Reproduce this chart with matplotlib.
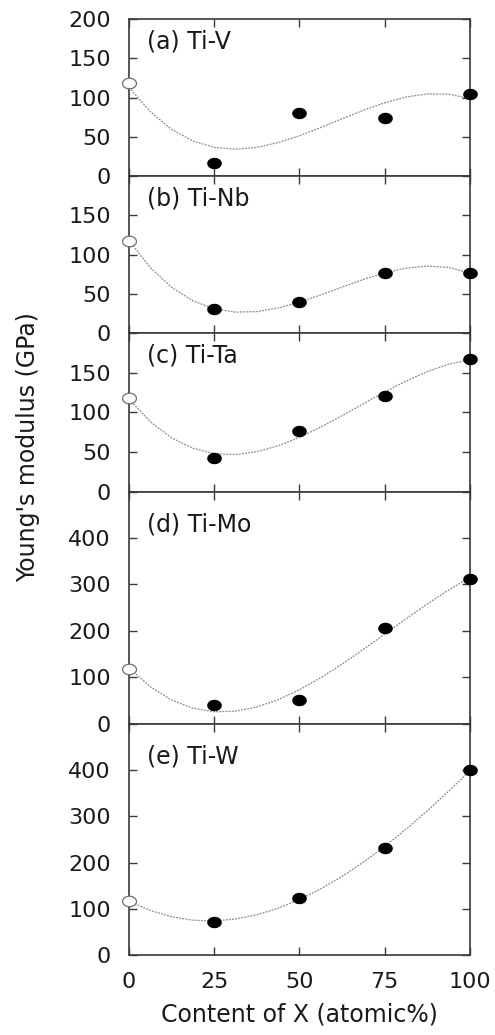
import numpy as np
import matplotlib
matplotlib.use("Agg")
import matplotlib.pyplot as plt
from matplotlib.path import Path

# composition of X (atomic%)
content = [0, 25, 50, 75, 100]
alloy_content = [25, 50, 75, 100]

# pure Ti (open circle) value in each panel
pure_ti = [118, 118, 118, 117, 117]

# Young's modulus of the alloys (GPa)
ti_v = [17, 81, 74, 104]
ti_nb = [31, 40, 77, 77]
ti_ta = [43, 76, 121, 168]
ti_mo = [40, 52, 207, 311]
ti_w = [71, 124, 232, 399]

# dotted fit curves, every 6.25 atomic%
curve_x = [0, 6.25, 12.5, 18.75, 25, 31.25, 37.5, 43.75, 50,
           56.25, 62.5, 68.75, 75, 81.25, 87.5, 93.75, 100]
fit_v = [113.1, 82.0, 59.5, 44.8, 36.7, 34.4, 36.7, 42.8, 51.5,
         62.0, 73.1, 84.0, 93.5, 100.8, 104.7, 104.4, 98.7]
fit_nb = [118.0, 83.7, 58.5, 41.4, 31.2, 27.0, 27.7, 32.3, 39.7,
          48.9, 58.9, 68.6, 77.0, 83.0, 85.7, 83.9, 76.6]
fit_ta = [116.8, 88.3, 67.8, 54.7, 47.9, 46.7, 50.4, 57.9, 68.6,
          81.6, 96.0, 111.0, 125.9, 139.7, 151.7, 161.0, 166.8]
fit_mo = [120.5, 79.7, 51.0, 33.4, 25.8, 27.1, 36.2, 51.9, 73.3,
          99.2, 128.5, 160.1, 193.0, 226.0, 258.1, 288.0, 314.9]
fit_w = [116.3, 96.2, 82.7, 75.2, 73.7, 77.7, 87.0, 101.1, 119.9,
         143.0, 170.1, 200.8, 234.9, 272.1, 312.0, 354.3, 398.7]

labels = ["(a) Ti-V", "(b) Ti-Nb", "(c) Ti-Ta", "(d) Ti-Mo", "(e) Ti-W"]
alloys = [ti_v, ti_nb, ti_ta, ti_mo, ti_w]
fits = [fit_v, fit_nb, fit_ta, fit_mo, fit_w]
ymax = [200, 200, 200, 500, 500]
ystep = [50, 50, 50, 100, 100]

# the source image is stretched sideways, so markers are slightly wide ellipses
th = np.linspace(0, 2 * np.pi, 60)
ellipse = Path(np.column_stack([np.cos(th), 0.76 * np.sin(th)]), closed=True)

spine_col = "#3a3a3a"
text_col = "#1a1a1a"

fig = plt.figure(figsize=(4.95, 10.35), dpi=100)
gs = fig.add_gridspec(5, 1, left=0.2606, right=0.9495, top=0.9816, bottom=0.0773,
                      hspace=0, height_ratios=[157, 157, 158, 232, 231])

for i in range(5):
    ax = fig.add_subplot(gs[i])
    ax.plot(curve_x, fits[i], color="#8a8a8a", lw=0.9, ls=(0, (1.5, 1)), zorder=2)
    ax.plot([0], [pure_ti[i]], ls="none", marker=ellipse, ms=10, mfc="white",
            mec="#6e6e6e", mew=0.9, clip_on=False, zorder=5)
    ax.plot(alloy_content, alloys[i], ls="none", marker=ellipse, ms=9.5,
            color="black", clip_on=False, zorder=5)

    ax.set_xlim(0, 100)
    ax.set_ylim(0, ymax[i])
    ax.set_xticks(content)
    ticks = np.arange(0, ymax[i] + 1, ystep[i])
    ax.set_yticks(ticks)
    if i == 0:
        ax.set_yticklabels([str(t) for t in ticks])
    else:
        ax.set_yticklabels([str(t) for t in ticks[:-1]] + [""])
    ax.tick_params(direction="in", top=True, right=True, length=6, width=1,
                   color=spine_col, labelsize=16, labelcolor=text_col)
    ax.tick_params(axis="y", pad=13)
    ax.tick_params(axis="x", pad=12)
    if i < 4:
        ax.tick_params(labelbottom=False)
    for s in ax.spines.values():
        s.set_color(spine_col)
        s.set_linewidth(1.2)
    ax.text(0.053, 0.86, labels[i], transform=ax.transAxes, fontsize=17,
            color=text_col, ha="left", va="center")

ax.set_xlabel("Content of X (atomic%)", fontsize=17, color=text_col, labelpad=8)
fig.text(28 / 495, 1 - 447 / 1035, "Young's modulus (GPa)", rotation=90,
         fontsize=17, color=text_col, ha="center", va="center")

fig.savefig("out.png", dpi=100)
